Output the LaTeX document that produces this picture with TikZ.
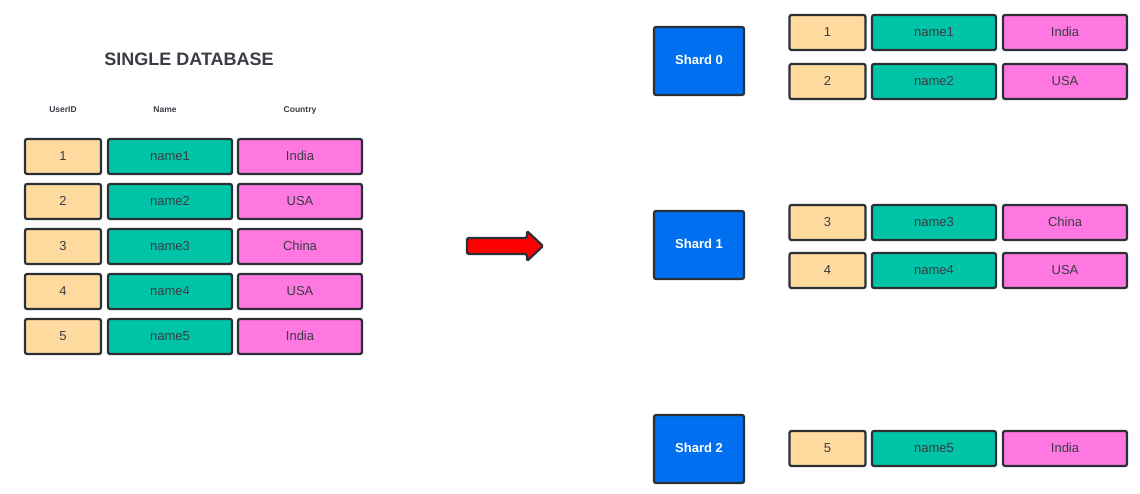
\documentclass[tikz,border=0pt]{standalone}
\usepackage{fontspec}
\setmainfont{Liberation Sans}
\definecolor{edgegray}{HTML}{2B2F36}
\definecolor{textgray}{HTML}{3B3B45}
\definecolor{idorange}{HTML}{FFDA9E}
\definecolor{nameteal}{HTML}{00C4A7}
\definecolor{countrypink}{HTML}{FF77E0}
\definecolor{shardblue}{HTML}{0070F0}
\definecolor{arrowred}{HTML}{FF0000}
\begin{document}
\begin{tikzpicture}[x=1pt,y=-1pt]
      \useasboundingbox (0,0) rectangle (1140,493);
      \tikzstyle{cell} = [draw=edgegray, line width=2.2pt, rounded corners=2pt, minimum height=35pt, inner sep=0pt, text height=9.5pt, text depth=2.5pt, text=textgray, font=\fontsize{13}{15}\selectfont]
      \tikzstyle{idcell} = [cell, fill=idorange, minimum width=76pt]
      \tikzstyle{namecell} = [cell, fill=nameteal, minimum width=124pt]
      \tikzstyle{countrycell} = [cell, fill=countrypink, minimum width=124pt]
      \tikzstyle{shard} = [draw=edgegray, line width=2.2pt, rounded corners=2pt, fill=shardblue, minimum width=90pt, minimum height=68pt, text height=9.5pt, text depth=2.5pt, text=white, font=\fontsize{13}{15}\selectfont\bfseries]
      \tikzstyle{header} = [text=textgray, text height=6pt, text depth=1.5pt, font=\fontsize{8.5}{10}\selectfont\bfseries]

      % single database
      \node[text=textgray, font=\fontsize{18}{22}\selectfont\bfseries] (title) at (189,59) {SINGLE DATABASE};
      \node[header] (huser) at (63,110) {UserID};
      \node[header] (hname) at (165,110) {Name};
      \node[header] (hcountry) at (300,110) {Country};

        \foreach \n/\c/\y in {1/India/156.5, 2/USA/201.5, 3/China/246.5, 4/USA/291.5, 5/India/336.5}{
          \node[idcell] (id\n) at (63,\y) {\n};
          \node[namecell] (name\n) at (170,\y) {name\n};
          \node[countrycell] (country\n) at (300,\y) {\c};
      }

      % arrow
      \draw[draw=edgegray, fill=arrowred, line width=2.2pt, rounded corners=1.5pt]
      (467,238) -- (527,238) -- (527,231) -- (543,246) -- (527,261) -- (527,254) -- (467,254) -- cycle;

      % shards
        \foreach \s/\y in {0/61, 1/245, 2/449}{
          \node[shard] (shard\s) at (699,\y) {Shard \s};
      }
        \foreach \n/\c/\y in {1/India/32.5, 2/USA/81.5, 3/China/222.5, 4/USA/270.5, 5/India/448.5}{
          \node[idcell] (rid\n) at (827.5,\y) {\n};
          \node[namecell] (rname\n) at (934,\y) {name\n};
          \node[countrycell] (rcountry\n) at (1065,\y) {\c};
      }
    \end{tikzpicture}
\end{document}
